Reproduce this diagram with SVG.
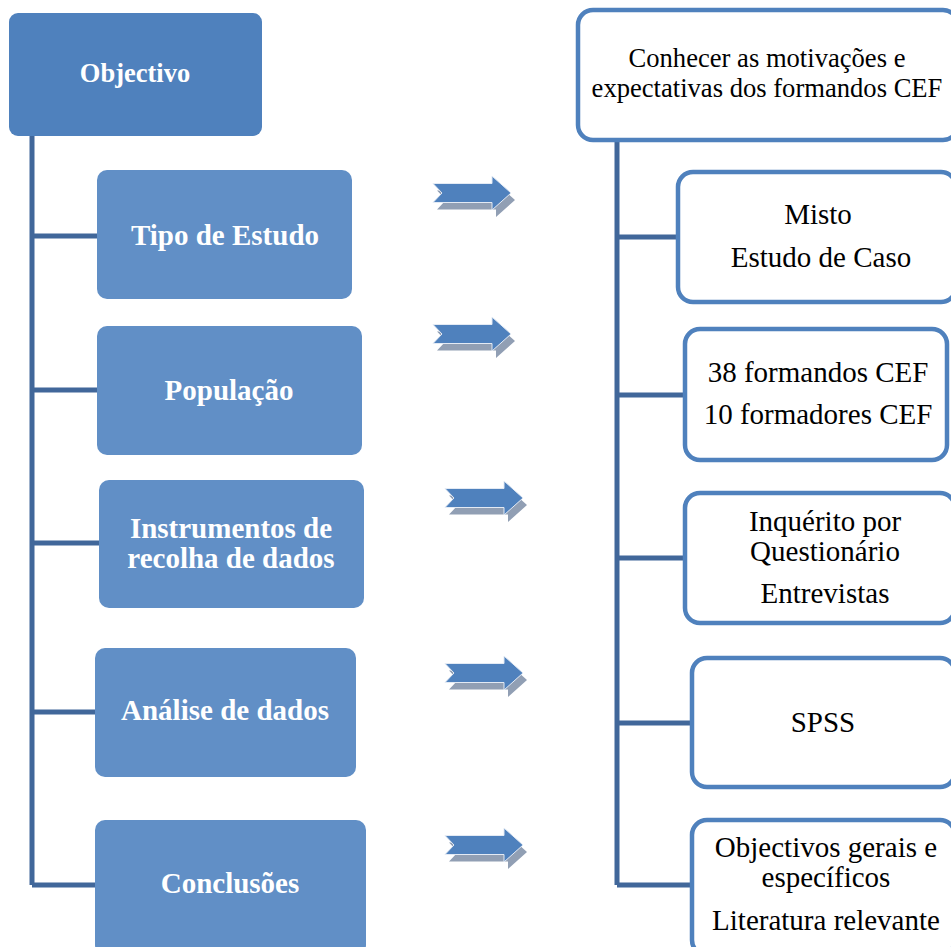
<svg xmlns="http://www.w3.org/2000/svg" xmlns:xlink="http://www.w3.org/1999/xlink" width="951" height="947" viewBox="0 0 951 947" font-family="'Liberation Serif', 'DejaVu Serif', serif">
<defs>
<style>
text{font-family:'Liberation Serif','DejaVu Serif',serif;}
.root{fill:#4f81bd;}
.lb{fill:#618fc6;}
.rb{fill:#ffffff;stroke:#4f81bd;stroke-width:4.5;}
.lt{font-weight:bold;fill:#ffffff;text-anchor:middle;font-size:29px;}
.rt{fill:#000000;text-anchor:middle;font-size:29px;}
.conn{stroke:#41679a;stroke-width:5;fill:none;}
.ash{fill:#919fb4;}
.am{fill:#4f81bd;stroke:#e3eaf4;stroke-width:1;}
</style>
<g id="arrow">
<path class="ash" transform="translate(4,7)" d="M0,-9.5 L59,-9.5 L59,-17 L78,0 L59,17 L59,9.5 L0,9.5 L9,0 Z"/>
<path class="am" d="M0,-9.5 L59,-9.5 L59,-17 L78,0 L59,17 L59,9.5 L0,9.5 L9,0 Z"/>
</g>
</defs>
<rect width="951" height="947" fill="#ffffff"/>
<g id="connectors">
<path class="conn" d="M32,136 V885 M32,236 H97 M32,390 H97 M32,543 H99 M32,712 H95 M32,885 H95"/>
<path class="conn" d="M617,140 V885 M617,237 H678 M617,395 H685 M617,558 H685 M617,723 H692 M617,885 H692"/>
</g>
<g id="arrows">
<use xlink:href="#arrow" href="#arrow" transform="translate(433,193)"/>
<use xlink:href="#arrow" href="#arrow" transform="translate(433,334)"/>
<use xlink:href="#arrow" href="#arrow" transform="translate(445,498)"/>
<use xlink:href="#arrow" href="#arrow" transform="translate(445,673)"/>
<use xlink:href="#arrow" href="#arrow" transform="translate(445,845)"/>
</g>
<g id="node-objectivo">
<rect class="root" x="9" y="13" width="253" height="123" rx="9"/>
<text class="lt" x="135" y="82" style="font-size:26.5px">Objectivo</text>
</g>
<g id="node-tipo">
<rect class="lb" x="97" y="170" width="255" height="129" rx="10"/>
<text class="lt" x="225" y="245">Tipo de Estudo</text>
</g>
<g id="node-populacao">
<rect class="lb" x="97" y="326" width="265" height="129" rx="10"/>
<text class="lt" x="229" y="400">População</text>
</g>
<g id="node-instrumentos">
<rect class="lb" x="99" y="480" width="265" height="128" rx="10"/>
<text class="lt" x="231" y="538">Instrumentos de</text>
<text class="lt" x="231" y="568">recolha de dados</text>
</g>
<g id="node-analise">
<rect class="lb" x="95" y="648" width="261" height="129" rx="10"/>
<text class="lt" x="225" y="720">Análise de dados</text>
</g>
<g id="node-conclusoes">
<rect class="lb" x="95" y="820" width="271" height="135" rx="10"/>
<text class="lt" x="230" y="893">Conclusões</text>
</g>
<g id="node-conhecer">
<rect class="rb" x="578" y="10" width="380" height="130" rx="15"/>
<text class="rt" x="767" y="67" style="font-size:26.6px">Conhecer as motivações e</text>
<text class="rt" x="767" y="97" style="font-size:26.6px">expectativas dos formandos CEF</text>
</g>
<g id="node-misto">
<rect class="rb" x="678" y="172" width="278" height="130" rx="15"/>
<text class="rt" x="818" y="224">Misto</text>
<text class="rt" x="821" y="267">Estudo de Caso</text>
</g>
<g id="node-populacao-r">
<rect class="rb" x="685" y="329" width="262" height="131" rx="15"/>
<text class="rt" x="818" y="382">38 formandos CEF</text>
<text class="rt" x="818" y="424">10 formadores CEF</text>
</g>
<g id="node-inquerito">
<rect class="rb" x="685" y="493" width="270" height="130" rx="15"/>
<text class="rt" x="825" y="531">Inquérito por</text>
<text class="rt" x="825" y="561">Questionário</text>
<text class="rt" x="825" y="603">Entrevistas</text>
</g>
<g id="node-spss">
<rect class="rb" x="692" y="658" width="263" height="129" rx="15"/>
<text class="rt" x="823" y="732">SPSS</text>
</g>
<g id="node-objectivos">
<rect class="rb" x="692" y="820" width="263" height="135" rx="15"/>
<text class="rt" x="826" y="857">Objectivos gerais e</text>
<text class="rt" x="826" y="887">específicos</text>
<text class="rt" x="826" y="930">Literatura relevante</text>
</g>
</svg>
